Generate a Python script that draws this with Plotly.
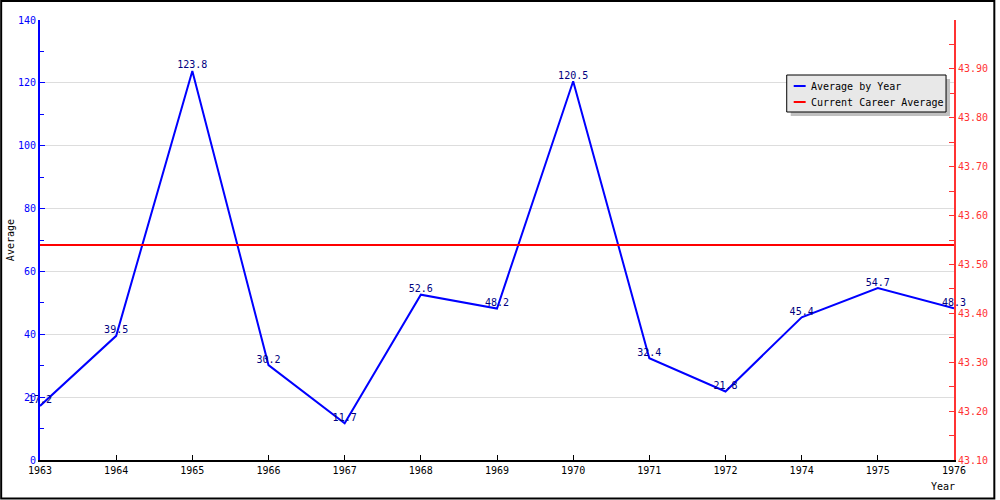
import plotly.graph_objects as go

years = ["1963", "1964", "1965", "1966", "1967", "1968", "1969", "1970",
         "1971", "1972", "1974", "1975", "1976"]
avg_by_year = [17.2, 39.5, 123.8, 30.2, 11.7, 52.6, 48.2, 120.5, 32.4, 21.8, 45.4, 54.7, 48.3]
career_avg = 43.54
left_ticks = [0, 20, 40, 60, 80, 100, 120, 140]
right_ticks = [43.1, 43.2, 43.3, 43.4, 43.5, 43.6, 43.7, 43.8, 43.9]
series_names = ["Average by Year", "Current Career Average"]
series_colors = ["#0000ff", "#ff0000"]

FONT = "DejaVu Sans Mono"
L, R, T, B = 40, 42, 20, 40
W, H = 1000, 500
PW, PH = W - L - R, H - T - B

fig = go.Figure()
fig.add_trace(go.Scatter(
    x=years, y=avg_by_year, mode="lines+text", name=series_names[0],
    line=dict(color=series_colors[0], width=2),
    text=[f"{v:.1f}" for v in avg_by_year], textposition="top center",
    textfont=dict(family=FONT, size=10, color="#000080"),
    cliponaxis=False, showlegend=False,
))
fig.add_trace(go.Scatter(
    x=years, y=[career_avg] * len(years), mode="lines", name=series_names[1],
    line=dict(color=series_colors[1], width=2), yaxis="y2", showlegend=False,
))


def px(xp):
    return (xp - L) / PW


def py(yp):
    return (H - B - yp) / PH


shapes = [
    # legend shadow
    dict(type="rect", xref="paper", yref="paper", x0=px(794), x1=px(954), y0=py(79), y1=py(116),
         fillcolor="#c0c0c0", line=dict(width=0), layer="above"),
    # legend box
    dict(type="rect", xref="paper", yref="paper", x0=px(790), x1=px(950), y0=py(75), y1=py(112),
         fillcolor="#e8e8e8", line=dict(color="black", width=1), layer="above"),
    # outer frame
    dict(type="rect", xref="paper", yref="paper", x0=px(1), x1=px(998.5), y0=py(1), y1=py(498.5),
         line=dict(color="black", width=2), fillcolor="rgba(0,0,0,0)"),
]
annotations = [
    dict(text="Average", xref="paper", yref="paper", x=px(10), y=py(240), textangle=-90,
         xanchor="center", yanchor="middle",
         showarrow=False, font=dict(family=FONT, size=10, color="black")),
    dict(text="Year", xref="paper", yref="paper", x=px(947), y=py(486),
         xanchor="center", yanchor="middle",
         showarrow=False, font=dict(family=FONT, size=10, color="black")),
]
for i, (name, col) in enumerate(zip(series_names, series_colors)):
    yy = 86 + 16 * i
    shapes.append(dict(type="line", xref="paper", yref="paper", x0=px(797), x1=px(809),
                       y0=py(yy), y1=py(yy), line=dict(color=col, width=2), layer="above"))
    annotations.append(dict(text=name, xref="paper", yref="paper", x=px(812), y=py(yy),
                            xanchor="left", yanchor="middle", showarrow=False,
                            font=dict(family=FONT, size=10, color="black")))

fig.update_layout(
    width=W, height=H, margin=dict(l=L, r=R, t=T, b=B),
    paper_bgcolor="white", plot_bgcolor="white",
    font=dict(family=FONT, size=10, color="black"),
    showlegend=False,
    xaxis=dict(type="category", range=[0, len(years) - 1], showgrid=False,
               showline=True, linecolor="black", linewidth=2,
               ticks="inside", ticklen=5, tickcolor="black",
               tickfont=dict(family=FONT, size=10, color="black"), zeroline=False),
    yaxis=dict(range=[0, 140], tickvals=left_ticks, showgrid=True, gridcolor="#dddddd",
               showline=True, linecolor="#0000ff", linewidth=2,
               ticks="inside", ticklen=5, tickcolor="#0000ff",
               minor=dict(dtick=10, ticks="inside", ticklen=4, tickcolor="#0000ff", showgrid=False),
               tickfont=dict(family=FONT, size=10, color="#0000ff"), zeroline=False),
    yaxis2=dict(range=[43.1, 44.0], overlaying="y", side="right",
                tickvals=right_ticks, ticktext=[f"{v:.2f}" for v in right_ticks],
                showgrid=False, showline=True, linecolor="#ff3333", linewidth=2,
                ticks="inside", ticklen=5, tickcolor="#ff3333",
                minor=dict(tickvals=[43.15, 43.25, 43.35, 43.45, 43.55, 43.65, 43.75, 43.85, 43.95, 44.0],
                           ticks="inside", ticklen=5, tickcolor="#ff3333", showgrid=False),
                tickfont=dict(family=FONT, size=10, color="#ff3333"), zeroline=False),
    shapes=shapes,
    annotations=annotations,
)

fig.write_html("out.html")
